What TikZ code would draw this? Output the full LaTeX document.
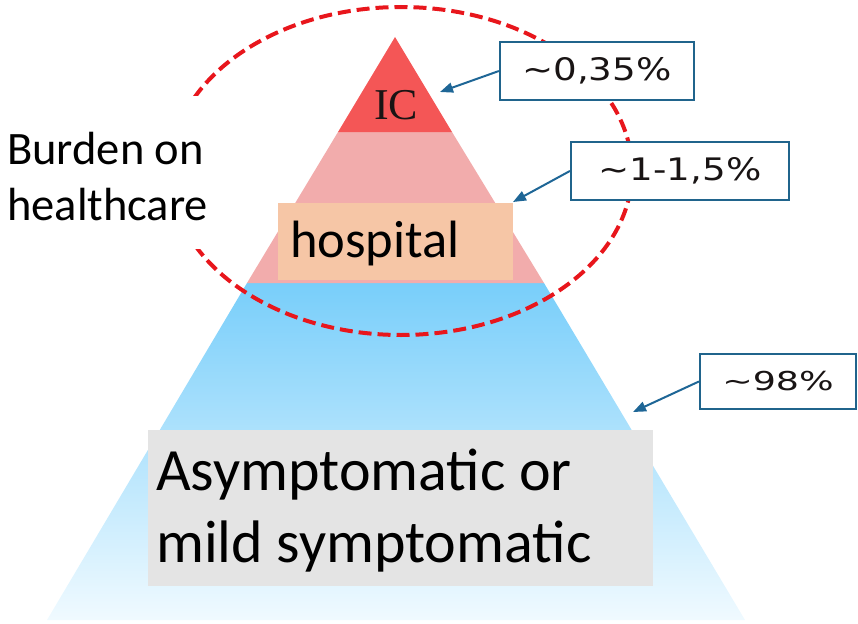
\documentclass[tikz,border=0pt]{standalone}
\usepackage{fontspec}
\setmainfont{Carlito}
\newfontfamily\pctfont[FakeStretch=1.2]{DejaVu Sans}
\newfontfamily\pctfontb[FakeStretch=1.4]{DejaVu Sans}
\newfontfamily\icfont{Liberation Serif}
\usetikzlibrary{arrows.meta}
\definecolor{icred}{RGB}{244,86,86}
\definecolor{hosppink}{RGB}{242,172,172}
\definecolor{peach}{RGB}{246,198,166}
\definecolor{blueTop}{RGB}{120,206,250}
\definecolor{blueBot}{RGB}{240,250,255}
\definecolor{mildgray}{RGB}{228,228,228}
\definecolor{dashred}{RGB}{232,22,28}
\definecolor{boxblue}{RGB}{32,100,140}
\definecolor{arrowblue}{RGB}{30,102,150}
\definecolor{txtdark}{RGB}{25,20,20}
\begin{document}
\begin{tikzpicture}[x=1pt,y=-1pt,
  pctbox/.style={draw=boxblue,line width=2.2pt,fill=white,inner sep=0pt,text=txtdark},
  pctarrow/.style={draw=arrowblue,line width=2pt,-{Triangle[length=13pt,width=10pt]}},
  ring/.style={draw=dashred,line width=4pt,dash pattern=on 13pt off 6pt},
  bigtext/.style={inner sep=0pt,anchor=base west,text=black}
]
\useasboundingbox (0,0) rectangle (858,623);
% pyramid
\coordinate (apex) at (395,37);
\coordinate (icL) at (338,132);
\coordinate (icR) at (452,132);
\coordinate (hL) at (247,283);
\coordinate (hR) at (544,283);
\coordinate (bL) at (47,620);
\coordinate (bR) at (745,620);
\shade[top color=blueTop,bottom color=blueBot] (hL) -- (hR) -- (bR) -- (bL) -- cycle;
\fill[hosppink] (icL) -- (icR) -- (hR) -- (hL) -- cycle;
\fill[icred] (apex) -- (icR) -- (icL) -- cycle;
% boxes
\node[fill=peach,minimum width=235pt,minimum height=77pt,inner sep=0pt,anchor=north west] (hospbox) at (278,203) {};
\node[fill=mildgray,minimum width=505pt,minimum height=156pt,inner sep=0pt,anchor=north west] (mildbox) at (148,430) {};
\node[inner sep=0pt,anchor=base,text=txtdark] (ic) at (396,119) {\icfont\fontsize{44}{44}\selectfont IC};
\node[bigtext] (hosp) at (290,257) {\fontsize{52.5}{60}\selectfont hospital};
\node[bigtext] (mild1) at (156,490) {\fontsize{60}{70}\selectfont Asymptomatic or};
\node[bigtext] (mild2) at (156,562) {\fontsize{60}{70}\selectfont mild symptomatic};
% dashed ring
\draw[ring] (401,171) ellipse [x radius=231, y radius=164];
% burden label
\node[fill=white,minimum width=212pt,minimum height=153pt,inner sep=0pt,anchor=north west] (burdenbox) at (0,96) {};
\node[bigtext] (burden1) at (7,164) {\fontsize{46.5}{56}\selectfont Burden on};
\node[bigtext] (burden2) at (7,220) {\fontsize{46.5}{56}\selectfont healthcare};
% percentage labels
\node[pctbox,minimum width=194pt,minimum height=58pt] (p1) at (597,71) {\pctfont\fontsize{31}{31}\selectfont \textasciitilde0,35\%};
\node[pctbox,minimum width=218pt,minimum height=58pt] (p2) at (680,171) {\pctfont\fontsize{31}{31}\selectfont \textasciitilde1-1,5\%};
\node[pctbox,minimum width=156pt,minimum height=55pt] (p3) at (778,381.5) {\pctfontb\fontsize{26}{26}\selectfont \textasciitilde98\%};
\coordinate (t1) at (440,92);
\coordinate (t2) at (513,202);
\coordinate (t3) at (633,412);
\draw[pctarrow] (p1.west) -- (t1);
\draw[pctarrow] (p2.west) -- (t2);
\draw[pctarrow] (p3.west) -- (t3);
\end{tikzpicture}
\end{document}
